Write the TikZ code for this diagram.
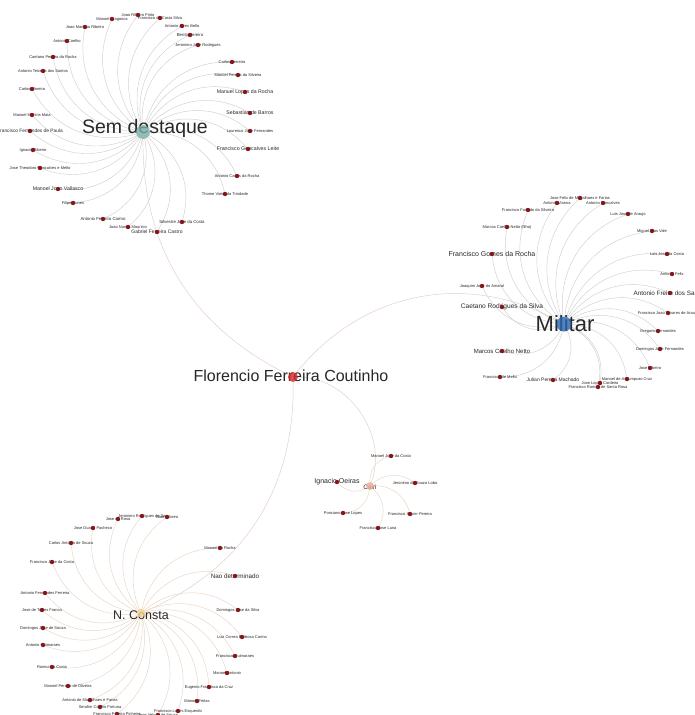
\documentclass[tikz,border=0pt]{standalone}
\usepackage{fontspec}
\setmainfont{Liberation Sans}
\usetikzlibrary{backgrounds}
\definecolor{dotred}{RGB}{135,22,28}
\definecolor{txt}{RGB}{40,40,40}
\definecolor{lnkgray}{RGB}{208,208,208}
\definecolor{lnkpeach}{RGB}{234,212,196}
\definecolor{lnkrose}{RGB}{226,204,198}
\definecolor{hubteal}{RGB}{120,172,165}
\definecolor{hubblue}{RGB}{40,100,172}
\definecolor{hubred}{RGB}{212,38,38}
\definecolor{hubyellow}{RGB}{242,204,140}
\definecolor{hubsalmon}{RGB}{236,172,150}
\tikzset{
  lbl/.style={text=txt, inner sep=0pt},
  dot/.style={circle, fill=dotred, inner sep=0pt, minimum size=4.4pt},
  hub/.style={circle, inner sep=0pt, opacity=0.8},
  lnk/.style={line width=0.45pt, draw=#1},
}
\newcommand\leaf[5]{%
  \node[lbl, font=\fontsize{#4}{#4}\selectfont] at (#2,-#3) {#5};
  \node[dot] (#1) at (#2,-#3) {};
}
\begin{document}
\begin{tikzpicture}[x=1pt,y=1pt]
\useasboundingbox (0,0) rectangle (694,-715);

% ---------- Florencio ----------
\node[lbl, font=\fontsize{16}{16}\selectfont] at (291,-376) {Florencio Ferreira Coutinho};
\node[hub, fill=hubred, minimum size=10pt] (fl) at (293,-377) {};

% ---------- Sem destaque ----------
\node[lbl, font=\fontsize{19.5}{19.5}\selectfont] at (145,-128) {Sem destaque};
\node[hub, fill=hubteal, minimum size=14pt] (sd) at (143,-132) {};
\leaf{s1}{138}{15}{4}{Joao Ribeiro Pinto}
\leaf{s2}{112}{19}{4}{Manoel Braganca}
\leaf{s3}{160}{18}{4}{Francisco da Costa Silva}
\leaf{s4}{182}{26}{4}{Antonio Alves Bello}
\leaf{s5}{85}{27}{4}{Joao Mariano Ribeiro}
\leaf{s6}{190}{35}{4.3}{Bento Pereira}
\leaf{s7}{198}{45}{4}{Jeronimo Jose Rodrigues}
\leaf{s8}{67}{41}{4}{Antonio Coelho}
\leaf{s9}{53}{57}{4}{Caetano Pereira da Rocha}
\leaf{s10}{232}{62}{4}{Carlos Ferreira}
\leaf{s11}{43}{71}{4}{Antonio Teixeira dos Santos}
\leaf{s12}{238}{75}{4}{Manoel Pereira da Silveira}
\leaf{s13}{32}{89}{4}{Carlos Moreira}
\leaf{s14}{245}{92}{5.2}{Manuel Lopes da Rocha}
\leaf{s15}{32}{115}{4}{Manoel Martins Maia}
\leaf{s16}{250}{113}{5.2}{Sebastiao de Barros}
\leaf{s17}{30}{131}{4.8}{Francisco Fernandes de Paula}
\leaf{s18}{250}{131}{4}{Lourenco Jose Fernandes}
\leaf{s19}{33}{150}{4}{Ignacio Ribeiro}
\leaf{s20}{248}{149}{5.3}{Francisco Goncalves Leite}
\leaf{s21}{40}{168}{4}{Jose Theodoro Goncalves e Mello}
\leaf{s22}{237}{176}{4}{Antonio Carlos da Rocha}
\leaf{s23}{58}{189}{5.2}{Manoel Joao Vallasco}
\leaf{s24}{225}{194}{4}{Thome Vieira da Trindade}
\leaf{s25}{73}{203}{4}{Filipe Nunes}
\leaf{s26}{103}{219}{4.3}{Antonio Ferreira Carmo}
\leaf{s27}{182}{222}{4.3}{Silvestre Jose da Costa}
\leaf{s28}{128}{227}{4}{Joao Nunes Mauricio}
\leaf{s29}{157}{232}{5}{Gabriel Ferreira Castro}

% ---------- Militar ----------
\node[lbl, font=\fontsize{22}{22}\selectfont] at (565,-324) {Militar};
\node[hub, fill=hubblue, minimum size=15pt] (ml) at (564,-324) {};
\leaf{m1}{580}{198}{4}{Jose Felix de Magalhaes e Farias}
\leaf{m2}{557}{203}{4}{Antonio Vianna}
\leaf{m3}{603}{203}{4}{Antonio Goncalves}
\leaf{m4}{528}{210}{4}{Francisco Furtado da Silveira}
\leaf{m5}{628}{214}{4}{Luis Jose de Araujo}
\leaf{m6}{507}{227}{4}{Marcos Coelho Netto (filho)}
\leaf{m7}{652}{231}{4}{Miguel Dias Vale}
\leaf{m8}{492}{254}{7}{Francisco Gomes da Rocha}
\leaf{m9}{667}{254}{4}{Luis Jose da Costa}
\leaf{m10}{672}{274}{4}{Antonio Felix}
\leaf{m11}{482}{286}{4}{Joaquim Jose do Amaral}
\leaf{m12}{670}{293}{6.3}{Antonio Freire dos Santos}
\leaf{m13}{502}{307}{6.6}{Caetano Rodrigues da Silva}
\leaf{m14}{668}{313}{4}{Francisco Joao Tavares de Araujo}
\leaf{m15}{658}{331}{4}{Gregorio Fernandes}
\leaf{m16}{502}{351}{6}{Marcos Coelho Netto}
\leaf{m17}{660}{349}{4}{Domingos Jose Fernandes}
\leaf{m18}{650}{368}{4}{Jose Ribeiro}
\leaf{m19}{500}{377}{4}{Francisco de Mello}
\leaf{m20}{553}{380}{5}{Julian Pereira Machado}
\leaf{m21}{627}{379}{4}{Manoel de Assumpcao Cruz}
\leaf{m22}{600}{383}{4}{Jose Lopes Cordeiro}
\leaf{m23}{598}{387}{4}{Francisco Romao de Santa Rosa}

% ---------- Cairi ----------
\node[lbl, font=\fontsize{6.5}{6.5}\selectfont] at (370,-487) {Cairi};
\node[hub, fill=hubsalmon, minimum size=8pt] (ca) at (370,-486) {};
\leaf{c1}{337}{482}{7}{Ignacio Oeiras}
\leaf{c2}{391}{456}{4}{Manoel Jose da Costa}
\leaf{c3}{415}{483}{4}{Jeronimo de Souza Lobo}
\leaf{c4}{343}{513}{4}{Ponciano Jose Lopes}
\leaf{c5}{410}{514}{4}{Francisco Xavier Pereira}
\leaf{c6}{378}{528}{4}{Francisco Jose Luna}

% ---------- N. Consta ----------
\node[lbl, font=\fontsize{12.5}{12.5}\selectfont] at (141,-615) {N. Consta};
\node[hub, fill=hubyellow, minimum size=9pt] (nc) at (141,-613) {};
\leaf{n1}{142}{516}{4}{Jeronimo Rodrigues de Sa}
\leaf{n2}{167}{517}{4}{Joao Ribeiro}
\leaf{n3}{118}{519}{4}{Jose da Rosa}
\leaf{n4}{93}{528}{4}{Jose Duarte Pacheco}
\leaf{n5}{71}{543}{4}{Carlos Antonio de Souza}
\leaf{n6}{220}{548}{4}{Manoel da Rocha}
\leaf{n7}{52}{562}{4}{Francisco Jose da Costa}
\leaf{n8}{235}{576}{6.3}{Nao determinado}
\leaf{n9}{45}{593}{4}{Antonio Fernandes Ferreira}
\leaf{n10}{42}{610}{4}{Jose de Torres Franco}
\leaf{n11}{238}{610}{4}{Domingos Jose da Silva}
\leaf{n12}{43}{628}{4}{Domingos Jose de Souza}
\leaf{n13}{242}{637}{4}{Luiz Correa Barbosa Carmo}
\leaf{n14}{43}{645}{4}{Antonio Guimaraes}
\leaf{n15}{235}{656}{4}{Francisco Guimaraes}
\leaf{n16}{52}{667}{4}{Raimundo Costa}
\leaf{n17}{227}{673}{4}{Manoel Antonio}
\leaf{n18}{68}{686}{4}{Manoel Pereira de Oliveira}
\leaf{n19}{209}{687}{4}{Eugenio Francisco da Cruz}
\leaf{n20}{90}{700}{4}{Antonio de Magalhaes e Farias}
\leaf{n21}{197}{701}{4}{Manoel Feitas}
\leaf{n22}{100}{707}{4}{Serafim Coelho Fortuna}
\leaf{n23}{178}{711}{4}{Francisco Lopes Esquerdo}
\leaf{n24}{117}{714}{4}{Francisco Pereira Pinheiro}
\leaf{n25}{158}{715}{4}{Jose Veloso de Souza}

% ---------- connectors ----------
\begin{scope}[on background layer]
  \fill[white] (0,0) rectangle (694,-715);
  \draw[lnk=lnkrose] (fl) to[bend left=32] (sd);
  \draw[lnk=lnkrose] (fl) to[bend left=40] (ml);
  \draw[lnk=lnkrose] (fl) to[bend left=55] (ca);
  \draw[lnk=lnkrose] (fl) to[bend left=34] (nc);
  \foreach \i in {1,...,29} \draw[lnk=lnkgray] (sd) to[bend left=38] (s\i);
  \foreach \i in {1,...,23} \draw[lnk=lnkgray] (ml) to[bend left=38] (m\i);
  \foreach \i in {1,...,6} \draw[lnk=lnkpeach] (ca) to[bend left=38] (c\i);
  \foreach \i in {1,...,25} \draw[lnk=lnkpeach] (nc) to[bend left=38] (n\i);
\end{scope}
\end{tikzpicture}
\end{document}
